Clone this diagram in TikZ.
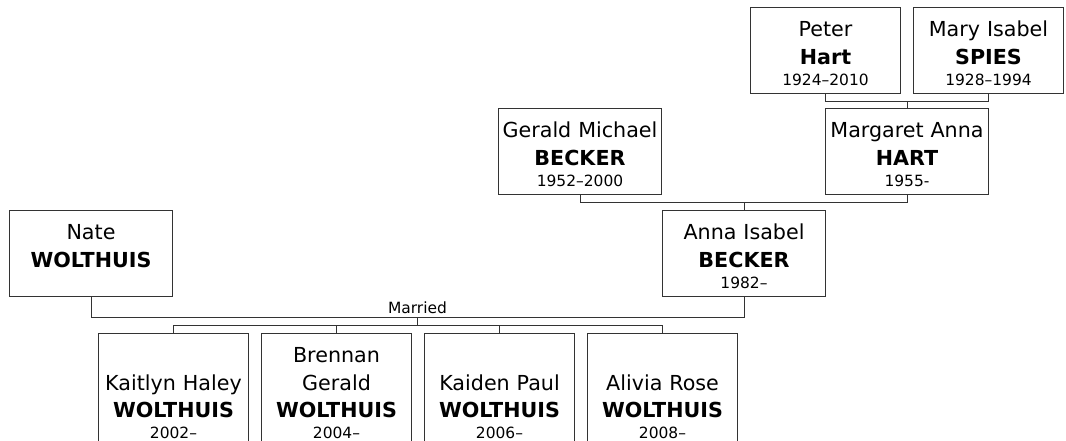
\documentclass[tikz,border=0pt]{standalone}
\usepackage{fontspec}
\setmainfont{DejaVu Sans}

\newcommand{\nm}{\fontsize{15.5}{20.6}\selectfont}
\newcommand{\yr}{\fontsize{11.6}{14}\selectfont}

\begin{document}
\begin{tikzpicture}[x=0.75pt, y=-0.75pt,
  every node/.style={font=\nm},
  box/.style={draw=black!80, line width=0.75pt, inner sep=0pt, align=center,
    text height=22pt, text depth=42.5pt},
  wide/.style={box, text width=122.25pt},
  narrow/.style={box, text width=112.5pt},
  kid/.style={narrow, text height=42.6pt, text depth=47.4pt},
  kidlong/.style={kid, text height=22pt, text depth=68pt},
  link/.style={draw=black!80, line width=0.75pt}]
\useasboundingbox (0,0) rectangle (1066,441);
\clip (0,0) rectangle (1066,441);
% grandparents
\node[narrow] (peter) at (825.5,50.5) {Peter\\\textbf{Hart}\\[-4.9pt]{\yr 1924–2010}};
\node[narrow] (mary) at (988.5,50.5) {Mary Isabel\\\textbf{SPIES}\\[-4.9pt]{\yr 1928–1994}};
% parents
\node[wide] (gerald) at (580,151.5) {Gerald Michael\\\textbf{BECKER}\\[-4.9pt]{\yr 1952–2000}};
\node[wide] (margaret) at (907,151.5) {Margaret Anna\\\textbf{HART}\\[-4.9pt]{\yr 1955-}};
% couple
\node[wide] (nate) at (91,253.5) {Nate\\\textbf{WOLTHUIS}};
\node[wide] (anna) at (744,253.5) {Anna Isabel\\\textbf{BECKER}\\[-4.9pt]{\yr 1982–}};
% children
\node[kid] (kaitlyn) at (173.5,393.5) {Kaitlyn Haley\\\textbf{WOLTHUIS}\\[-4.9pt]{\yr 2002–}};
\node[kidlong] (brennan) at (336.5,393.5) {Brennan\\Gerald\\\textbf{WOLTHUIS}\\[-4.9pt]{\yr 2004–}};
\node[kid] (kaiden) at (499.5,393.5) {Kaiden Paul\\\textbf{WOLTHUIS}\\[-4.9pt]{\yr 2006–}};
\node[kid] (alivia) at (662.5,393.5) {Alivia Rose\\\textbf{WOLTHUIS}\\[-4.9pt]{\yr 2008–}};
% bar levels
\coordinate (hartbar) at (0,101.5);
\coordinate (beckerbar) at (0,202.5);
\coordinate (wedbar) at (0,317.5);
\coordinate (kidbar) at (0,325.5);
% connectors
\draw[link] (peter.south) |- (mary.south |- hartbar) -- (mary.south);
\draw[link] (margaret.north) -- (margaret.north |- hartbar);
\draw[link] (gerald.south) |- (margaret.south |- beckerbar) -- (margaret.south);
\draw[link] (anna.north) -- (anna.north |- beckerbar);
\draw[link] (nate.south) |- (anna.south |- wedbar) -- (anna.south);
\node[font=\yr, inner sep=0pt, anchor=base] (wed) at (417.5,313.5) {Married};
\draw[link] (wed.south |- wedbar) -- (wed.south |- kidbar);
\draw[link] (kaitlyn.north) |- (alivia.north |- kidbar) -- (alivia.north);
\draw[link] (brennan.north) -- (brennan.north |- kidbar);
\draw[link] (kaiden.north) -- (kaiden.north |- kidbar);
\end{tikzpicture}
\end{document}
